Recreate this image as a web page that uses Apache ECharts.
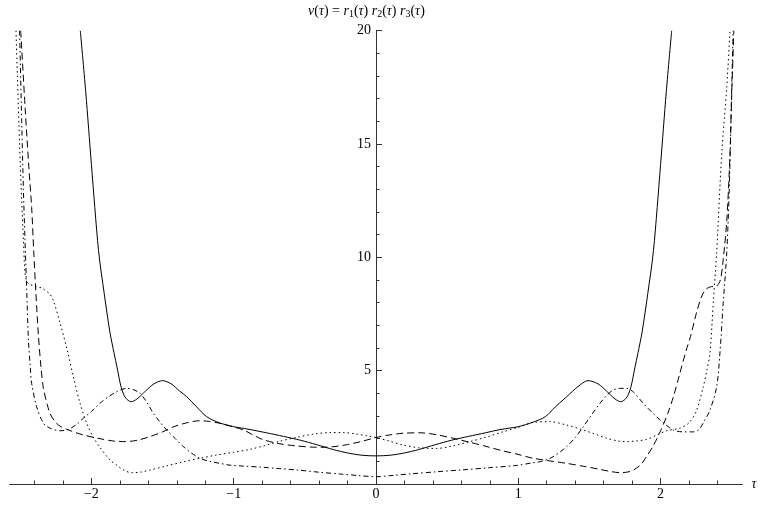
<!DOCTYPE html>
<html><head><meta charset="utf-8">
<script src="https://cdn.jsdelivr.net/npm/echarts@6/dist/echarts.min.js"></script>
<style>html,body{margin:0;padding:0;background:#fff}#c{width:761px;height:506px}</style>
</head><body><div id="c"></div>
<script>
// ---- data ----
const tauSolid = [-2.078,-2.04,-2.0,-1.95,-1.91,-1.87,-1.84,-1.82,-1.79,-1.76,-1.72,-1.68,-1.62,-1.56,-1.5,-1.44,-1.38,-1.33,-1.26,-1.19,-1.1,-1.0,-0.9,-0.77,-0.65,-0.53,-0.42,-0.3,-0.2,-0.1,0,0.1,0.2,0.3,0.42,0.53,0.65,0.77,0.87,1.0,1.1,1.19,1.26,1.34,1.42,1.49,1.56,1.62,1.68,1.72,1.76,1.79,1.82,1.84,1.87,1.91,1.95,2.0,2.04,2.078];
const vSolid = [20,17.3,14.1,10.3,8.4,6.7,5.75,5.15,4.25,3.8,3.63,3.75,4.1,4.42,4.56,4.42,4.1,3.85,3.4,2.97,2.7,2.53,2.42,2.26,2.1,1.93,1.74,1.52,1.37,1.27,1.24,1.27,1.37,1.52,1.74,1.93,2.1,2.26,2.4,2.53,2.72,2.97,3.4,3.85,4.3,4.56,4.42,4.1,3.75,3.63,3.8,4.25,5.15,5.75,6.7,8.4,10.3,14.1,17.3,20];

const tauDashed = [-2.497,-2.465,-2.44,-2.42,-2.405,-2.39,-2.373,-2.355,-2.337,-2.31,-2.29,-2.255,-2.22,-2.16,-2.06,-1.94,-1.85,-1.76,-1.67,-1.59,-1.5,-1.42,-1.33,-1.24,-1.17,-1.1,-1.02,-0.93,-0.86,-0.79,-0.68,-0.56,-0.46,-0.37,-0.28,-0.2,-0.1,0,0.1,0.19,0.31,0.43,0.54,0.66,0.78,0.88,0.99,1.1,1.22,1.34,1.46,1.57,1.65,1.715,1.77,1.81,1.86,1.9,1.95,2.0,2.05,2.09,2.136,2.18,2.21,2.254,2.29,2.32,2.35,2.39,2.42,2.44,2.465,2.488,2.5,2.515];
const vDashed = [20,16.5,14,12.2,10.2,8.4,6.6,5.2,4.2,3.5,3.1,2.75,2.55,2.38,2.17,2.0,1.9,1.87,1.94,2.09,2.3,2.53,2.7,2.79,2.76,2.68,2.55,2.38,2.15,1.95,1.78,1.68,1.63,1.62,1.66,1.74,1.88,2.05,2.17,2.24,2.26,2.17,2.02,1.84,1.65,1.48,1.32,1.14,1.02,0.91,0.78,0.65,0.55,0.5,0.53,0.62,0.85,1.2,1.7,2.35,3.1,3.85,4.9,5.9,6.5,7.6,8.3,8.6,8.7,8.72,9.0,9.9,11.6,14.6,17.2,20];

const tauDotted = [-2.53,-2.505,-2.49,-2.478,-2.467,-2.455,-2.443,-2.41,-2.385,-2.35,-2.326,-2.295,-2.268,-2.22,-2.17,-2.127,-2.08,-2.033,-1.99,-1.94,-1.87,-1.82,-1.77,-1.717,-1.65,-1.588,-1.47,-1.354,-1.24,-1.12,-1.0,-0.885,-0.79,-0.68,-0.557,-0.44,-0.323,-0.23,-0.136,-0.06,0,0.1,0.19,0.3,0.426,0.54,0.66,0.78,0.895,1.0,1.105,1.223,1.34,1.457,1.54,1.621,1.7,1.762,1.83,1.902,1.97,2.043,2.136,2.2,2.25,2.3,2.325,2.347,2.37,2.394,2.43,2.465,2.488];
const vDotted = [20,15,12.5,10.8,9.3,8.95,8.85,8.75,8.7,8.65,8.55,8.4,8.1,7.1,5.9,4.73,3.56,2.68,2.1,1.62,1.06,0.82,0.6,0.5,0.53,0.62,0.8,0.98,1.13,1.28,1.4,1.53,1.68,1.88,2.06,2.2,2.27,2.27,2.2,2.12,2.05,1.88,1.72,1.6,1.57,1.68,1.87,2.08,2.31,2.5,2.72,2.75,2.6,2.38,2.2,2.02,1.9,1.87,1.9,1.97,2.15,2.35,2.46,2.7,3.2,4.29,5.0,5.77,7.97,10.2,14.6,17.5,20];

const tauDashDot = [-2.505,-2.49,-2.478,-2.467,-2.455,-2.443,-2.43,-2.42,-2.385,-2.337,-2.29,-2.22,-2.162,-2.1,-2.057,-2.0,-1.94,-1.88,-1.822,-1.752,-1.7,-1.658,-1.61,-1.565,-1.52,-1.471,-1.41,-1.354,-1.3,-1.237,-1.17,-1.096,-1.026,-0.93,-0.8,-0.68,-0.557,-0.4,-0.25,-0.12,0,0.12,0.25,0.426,0.6,0.8,0.989,1.105,1.165,1.223,1.28,1.34,1.4,1.457,1.515,1.574,1.62,1.668,1.72,1.762,1.81,1.878,1.95,2.02,2.09,2.16,2.23,2.27,2.3,2.347,2.394,2.417,2.44,2.465,2.483,2.5,2.51];
const vDashDot = [20,16,13,10.8,8.6,6.4,5.2,4.44,3.41,2.68,2.46,2.35,2.41,2.65,2.9,3.2,3.56,3.85,4.07,4.22,4.15,4.0,3.6,3.12,2.75,2.38,2.0,1.65,1.38,1.13,1.0,0.91,0.83,0.79,0.74,0.68,0.62,0.52,0.44,0.37,0.32,0.38,0.45,0.54,0.62,0.72,0.82,0.94,1.0,1.13,1.35,1.65,2.05,2.53,3.05,3.56,3.9,4.15,4.22,4.22,4.05,3.56,3.1,2.7,2.38,2.3,2.3,2.4,2.7,3.26,4.29,5.77,7.97,10.2,13.1,17.5,20];

const xMajorTicks = [-2, -1, 0, 1, 2];
const yTickLabels = [5, 10, 15, 20];
// ---------------------------------------------

const xMinorTicks = [];
for (let k = -12; k <= 12; k++) { if (k % 5 !== 0) xMinorTicks.push(+(k * 0.2).toFixed(1)); }

const FONT = '"Liberation Serif", "Times New Roman", serif';
const AX = '#333';
const X_MIN = -2.575, X_MAX = 2.575;
const GRID_LEFT = 9.6, GRID_RIGHT = 18.6;
const zip = (a, b) => a.map((t, i) => [t, b[i]]);
const fmtNum = v => (v < 0 ? '\u2212' + Math.abs(v) : String(v));

function lineSeries(name, t, v, type) {
  return {
    name, type: 'line', xAxisIndex: 0, yAxisIndex: 0,
    data: zip(t, v), showSymbol: false, symbol: 'none',
    smooth: 0.3, clip: true, animation: false,
    lineStyle: { color: '#000', width: 1, type: type }
  };
}

const chart = echarts.init(document.getElementById('c'), null, { renderer: 'canvas' });
const gridWidth = 761 - GRID_LEFT - GRID_RIGHT;
const zeroOffset = gridWidth * (0 - X_MIN) / (X_MAX - X_MIN);
const rt = { fontFamily: FONT, fontSize: 14, color: '#000', fontWeight: 'normal', lineHeight: 16 };
chart.setOption({
  backgroundColor: '#fff',
  animation: false,
  title: {
    text: '{i|v}{n|(}{i|τ}{n|) = }{i|r}{s|1}{n|(}{i|τ}{n|) }{i|r}{s|2}{n|(}{i|τ}{n|) }{i|r}{s|3}{n|(}{i|τ}{n|)}',
    left: 308, top: 3, padding: 0,
    textStyle: {
      fontFamily: FONT, fontSize: 14, color: '#000', fontWeight: 'normal',
      rich: {
        i: Object.assign({}, rt, { fontStyle: 'italic' }),
        n: Object.assign({}, rt),
        s: { fontFamily: FONT, fontSize: 10, color: '#000', fontWeight: 'normal', lineHeight: 8, padding: [8, 0, 0, 0], verticalAlign: 'bottom' }
      }
    }
  },
  grid: { left: GRID_LEFT, right: GRID_RIGHT, top: 30.7, bottom: 22, containLabel: false, outerBoundsMode: 'none' },
  xAxis: [
    {
      type: 'value', min: X_MIN, max: X_MAX,
      name: 'τ', nameLocation: 'end', nameGap: 9,
      nameTextStyle: { fontFamily: FONT, fontStyle: 'italic', fontSize: 14, color: '#000', verticalAlign: 'middle' },
      axisLine: { show: true, onZero: false, lineStyle: { color: AX, width: 1 } },
      axisTick: { show: true, inside: true, length: 6, customValues: xMajorTicks, lineStyle: { color: AX, width: 1 } },
      axisLabel: { show: true, customValues: xMajorTicks, formatter: fmtNum, margin: 3, fontFamily: FONT, fontSize: 14, color: '#000' },
      splitLine: { show: false }
    },
    {
      type: 'value', min: X_MIN, max: X_MAX, position: 'bottom',
      axisLine: { show: false, onZero: false },
      axisTick: { show: true, inside: true, length: 3.5, customValues: xMinorTicks, lineStyle: { color: AX, width: 1 } },
      axisLabel: { show: false },
      splitLine: { show: false }
    }
  ],
  yAxis: {
    type: 'value', min: 0, max: 20, interval: 5, position: 'left', offset: -zeroOffset,
    axisLine: { show: true, onZero: false, lineStyle: { color: AX, width: 1 } },
    axisTick: { show: true, inside: true, length: 6, lineStyle: { color: AX, width: 1 } },
    minorTick: { show: true, splitNumber: 5, length: 3.5, lineStyle: { color: AX, width: 1 } },
    axisLabel: { formatter: v => (yTickLabels.indexOf(v) >= 0 ? String(v) : ''), margin: 5, fontFamily: FONT, fontSize: 14, color: '#000' },
    splitLine: { show: false }, minorSplitLine: { show: false }
  },
  series: [
    lineSeries('v', tauSolid, vSolid, 'solid'),
    lineSeries('dashed', tauDashed, vDashed, [7, 4]),
    lineSeries('dotted', tauDotted, vDotted, [1.5, 3]),
    lineSeries('dashdot', tauDashDot, vDashDot, [5, 3, 1.5, 3])
  ]
});
</script></body></html>
